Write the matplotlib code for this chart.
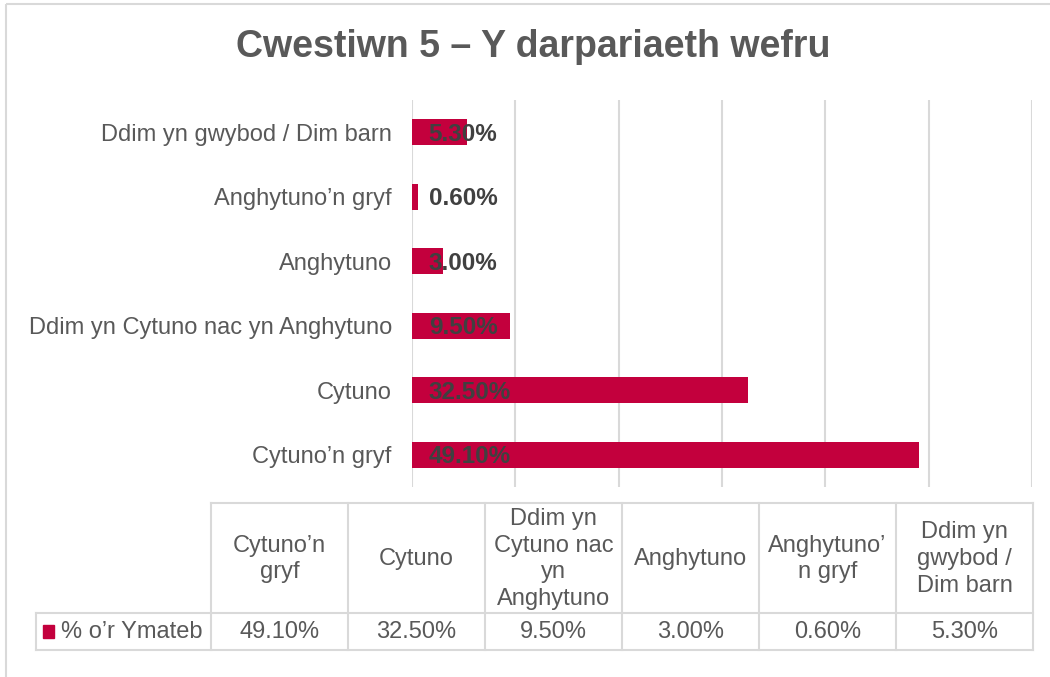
import matplotlib
matplotlib.use("Agg")
import matplotlib.pyplot as plt
from matplotlib.patches import Rectangle

# ─── DATA ────────────────────────────────────────────────────────────────
categories = [
    "Cytuno’n gryf",
    "Cytuno",
    "Ddim yn Cytuno nac yn Anghytuno",
    "Anghytuno",
    "Anghytuno’n gryf",
    "Ddim yn gwybod / Dim barn",
]
# wrapped headers, as they appear in the data table
table_headers = [
    "Cytuno’n\ngryf",
    "Cytuno",
    "Ddim yn\nCytuno nac\nyn\nAnghytuno",
    "Anghytuno",
    "Anghytuno’\nn gryf",
    "Ddim yn\ngwybod /\nDim barn",
]
values = [0.491, 0.325, 0.095, 0.030, 0.006, 0.053]
series_name = "% o’r Ymateb"
title = "Cwestiwn 5 – Y darpariaeth wefru"

BAR_COLOR = "#C3003D"
TEXT_COLOR = "#595959"
LABEL_COLOR = "#404040"
LINE_COLOR = "#D9D9D9"
FONT = "Liberation Sans"

W, H = 1050, 677
fig = plt.figure(figsize=(W / 100, H / 100), dpi=100)
fig.patch.set_facecolor("white")

# overlay in pixel coordinates for border, title and data table
ov = fig.add_axes([0, 0, 1, 1])
ov.set_xlim(0, W)
ov.set_ylim(H, 0)
ov.axis("off")
ov.add_patch(Rectangle((6, 4), W + 20, H + 20, fill=False,
                       edgecolor=LINE_COLOR, linewidth=1.5))
ov.text(533, 47, title, ha="center", va="center", fontsize=27,
        fontweight="bold", color=TEXT_COLOR, family=FONT)

# ─── BAR CHART ───────────────────────────────────────────────────────────
ax = fig.add_axes([412 / W, 1 - 487 / H, 620 / W, 387 / H])
ypos = list(range(len(categories)))
ax.barh(ypos, values, height=0.4, color=BAR_COLOR, zorder=2)
ax.set_xlim(0, 0.6)
ax.set_ylim(-0.5, len(categories) - 0.5)
ax.set_xticks([i / 10 for i in range(7)])
ax.set_xticklabels([])
ax.tick_params(axis="x", length=0)
ax.tick_params(axis="y", length=0, pad=14.5)
ax.set_yticks(ypos)
ax.set_yticklabels(categories, fontsize=17, color=TEXT_COLOR, family=FONT)
ax.grid(True, axis="x", color=LINE_COLOR, linewidth=1.5, zorder=0)
for s in ax.spines.values():
    s.set_visible(False)

for y, v in zip(ypos, values):
    ax.annotate(f"{v * 100:.2f}%", xy=(0, y), xytext=(12, -1.5),
                textcoords="offset points", ha="left", va="center",
                fontsize=17.5, fontweight="bold", color=LABEL_COLOR,
                family=FONT, zorder=3)

# ─── DATA TABLE ──────────────────────────────────────────────────────────
col_left = 211
col_w = 137
top, mid, bot = 503, 613, 650
leg_left = 36
n = len(categories)
right = col_left + n * col_w

lw = 1.5
ov.plot([col_left, right], [top, top], color=LINE_COLOR, lw=lw)
ov.plot([leg_left, right], [mid, mid], color=LINE_COLOR, lw=lw)
ov.plot([leg_left, right], [bot, bot], color=LINE_COLOR, lw=lw)
ov.plot([leg_left, leg_left], [mid, bot], color=LINE_COLOR, lw=lw)
for i in range(n + 1):
    x = col_left + i * col_w
    ov.plot([x, x], [top, bot], color=LINE_COLOR, lw=lw)

for i, (hdr, v) in enumerate(zip(table_headers, values)):
    cx = col_left + (i + 0.5) * col_w
    ov.text(cx, (top + mid) / 2 + 1, hdr, ha="center", va="center",
            fontsize=17, color=TEXT_COLOR, family=FONT, linespacing=1.27)
    ov.text(cx, (mid + bot) / 2 + 1, f"{v * 100:.2f}%", ha="center",
            va="center", fontsize=17, color=TEXT_COLOR, family=FONT)

ov.add_patch(Rectangle((43, 625), 11, 13, color=BAR_COLOR))
ov.text(61, (mid + bot) / 2 + 1, series_name, ha="left", va="center",
        fontsize=17, color=TEXT_COLOR, family=FONT)

fig.savefig("out.png", dpi=100)
plt.close(fig)
